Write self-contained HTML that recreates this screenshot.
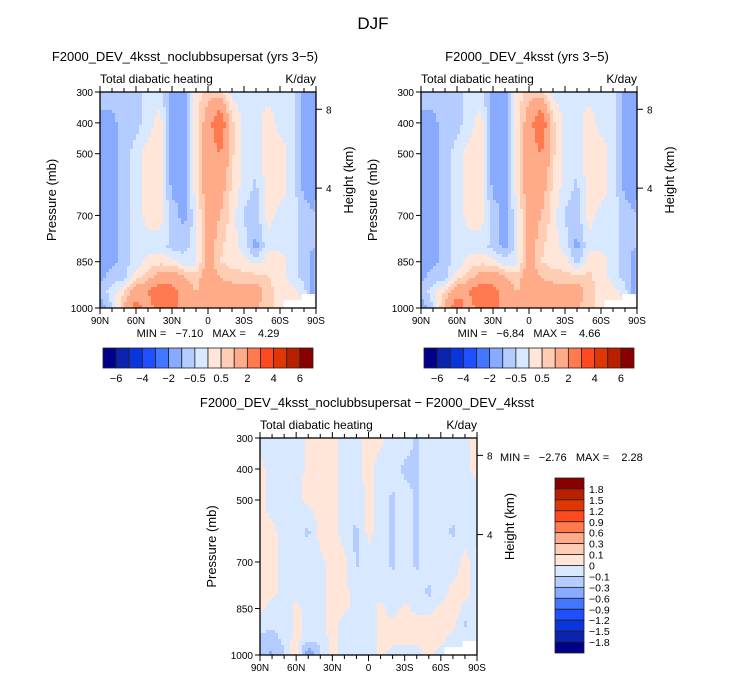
<!DOCTYPE html>
<html><head><meta charset="utf-8">
<style>
body{margin:0;background:#fff;}
svg{display:block;font-family:"Liberation Sans",sans-serif;}
text{fill:#000;white-space:pre;}
</style></head>
<body>
<svg id="fig" width="733" height="678" viewBox="0 0 733 678">
<text x="373" y="29" font-size="17" text-anchor="middle" fill="#333">DJF</text>
</svg>
<script>
// ---- data ----
const lats = ["90N","80N","70N","60N","50N","40N","30N","20N","10N","0","10S","20S","30S","40S","50S","60S","70S","80S","90S"];
const levels = [300,400,500,600,700,800,850,900,950,1000];
const latTickLabels = ["90N","60N","30N","0","30S","60S","90S"];
const pressureTicks = [300,400,500,700,850,1000];
const heightTicks = [8,4];
const mainThresholds = [-6,-5,-4,-3,-2,-1,-0.5,0,0.5,1,2,3,4,5,6];
const mainBarLabels = ["-6","-4","-2","-0.5","0.5","2","4","6"];
const diffThresholds = [-1.8,-1.5,-1.2,-0.9,-0.6,-0.3,-0.1,0,0.1,0.3,0.6,0.9,1.2,1.5,1.8];
const diffBarLabels = ["1.8","1.5","1.2","0.9","0.6","0.3","0.1","0","\u22120.1","\u22120.3","\u22120.6","\u22120.9","\u22121.2","\u22121.5","\u22121.8"];
const colors = ["#00008b","#0a24b0","#0a35dc","#1f4fff","#4477ff","#88aaff","#b4ccff","#d8e8ff","#ffe6d8","#ffccb4","#ffaa88","#ff7a4e","#ff4a20","#e03505","#b82000","#880000"];
const grid1 = [
[-0.7,-0.7,-0.7,-0.7,-0.3,-0.3,-1.2,-1.2,0.2,0.8,0.6,-0.2,-0.2,-0.2,-0.2,-0.2,-0.2,-1.2,-1.2],
[-1.2,-1.2,-0.7,-0.7,-0.3,0.3,-1.5,-1.2,0.2,1.5,3,0.6,-0.2,-0.2,0.3,-0.2,-0.2,-1.2,-1.2],
[-1.2,-1.2,-0.7,-0.3,0.3,0.3,-1.5,-1.2,0.3,1.5,2,0.6,-0.2,-0.2,0.3,0.3,-0.2,-1.2,-1.5],
[-1.2,-1.2,-0.7,-0.3,0.3,0.3,-1.2,-1.2,0.3,1.5,1.5,0.4,-0.2,-0.6,0.3,0.3,-0.2,-1.2,-1.5],
[-1.2,-1.2,-0.7,-0.3,0.2,0.2,-0.7,-1.2,-0.2,1.5,1,0.3,-0.6,-0.7,0.2,-0.2,-0.2,-0.7,-1],
[-1.2,-1.2,-0.7,-0.3,-0.2,-0.2,-0.7,-0.7,-0.2,1.5,0.6,0.2,-0.2,-1.2,-0.2,-0.2,-0.2,-0.7,-1],
[-1.2,-1.2,-0.7,-0.3,0.2,0.3,0.2,-0.3,-0.2,1.5,0.5,0.3,0.2,-0.2,0.3,0.3,-0.2,-0.7,-1.5],
[-1.2,-0.7,-0.7,0.3,0.7,1.5,1.5,1,0.7,1.5,1,0.7,0.7,0.7,0.5,0.3,-0.2,-0.7,-1.5],
[-0.7,-0.3,0.5,1.5,2,3,2.5,1.5,1,1.5,1.5,1.5,1.5,1.5,0.7,0.3,0.2,-0.2,-2],
[-1.5,-0.5,1,2.5,1.5,2.5,2.5,1.5,1,1,1,1,1.5,1,0.7,0.3,0.2,0.2,-0.5]];
const grid2 = [
[-0.7,-0.7,-0.7,-0.7,-0.3,-0.3,-1.2,-1.2,0.2,0.8,0.6,-0.2,-0.2,-0.2,-0.2,-0.2,-0.2,-1.2,-1.2],
[-1.2,-1.2,-0.7,-0.7,-0.3,0.3,-1.5,-1.2,0.2,1.5,3,0.6,-0.2,-0.2,0.3,-0.2,-0.2,-1.2,-1.2],
[-1.2,-1.2,-0.7,-0.3,0.3,0.3,-1.5,-1.2,0.3,1.5,2,0.6,-0.2,-0.2,0.3,0.3,-0.2,-1.2,-1.5],
[-1.2,-1.2,-0.7,-0.3,0.3,0.3,-1.2,-1.2,0.3,1.5,1.5,0.4,-0.2,-0.6,0.3,0.3,-0.2,-1.2,-1.5],
[-1.2,-1.2,-0.7,-0.3,0.2,0.2,-0.7,-1.2,-0.2,1.5,1,0.3,-0.6,-0.7,0.2,-0.2,-0.2,-0.7,-1],
[-1.2,-1.2,-0.7,-0.3,-0.2,-0.2,-0.7,-1.2,-0.2,1.5,0.6,0.2,-0.2,-1.2,-0.2,-0.2,-0.2,-0.7,-1],
[-1.2,-1.2,-0.7,-0.3,0.2,0.3,0.2,-0.3,-0.2,1.5,0.5,0.3,0.2,-0.7,0.3,0.3,-0.2,-0.7,-1.5],
[-1.2,-0.7,-0.7,0.3,0.7,1.5,1.5,1,0.7,1.5,1,0.7,0.7,0.7,0.6,0.3,-0.2,-0.7,-1.5],
[-0.7,-0.3,0.7,1.5,2,3,2.5,1.5,1,1.5,1.5,1.5,1.5,1.5,0.7,0.3,0.2,-0.2,-2],
[-1.5,-0.5,1.2,2.8,1.5,2.5,2.5,1.5,1,1,1,1,1.5,1,0.7,0.3,0.2,0.2,-0.5]];
const grid3 = [
[-0.05,-0.05,-0.05,-0.05,0.03,0.05,0.03,-0.05,-0.05,0.04,0.03,-0.05,-0.05,-0.12,-0.05,-0.05,-0.05,-0.03,0.03],
[0.03,-0.05,-0.05,-0.05,0.03,0.05,0.04,-0.05,-0.05,0.04,-0.05,-0.05,-0.12,-0.12,-0.05,-0.05,-0.05,-0.03,0.03],
[0.03,-0.05,-0.05,-0.03,0.03,0.05,0.05,-0.05,-0.05,0.03,-0.05,-0.12,-0.05,-0.12,-0.05,-0.05,-0.05,-0.03,-0.05],
[0.03,0.03,-0.05,-0.05,-0.12,0.04,0.05,-0.05,-0.12,0.03,-0.05,-0.12,-0.05,-0.12,-0.05,-0.05,-0.12,-0.03,-0.05],
[0.03,0.03,-0.05,-0.05,-0.05,-0.03,0.05,0.03,-0.12,-0.03,-0.05,-0.12,-0.05,-0.12,-0.05,-0.05,-0.05,0.03,-0.05],
[0.03,0.03,-0.05,-0.05,-0.05,-0.05,0.05,0.03,-0.05,-0.03,-0.05,-0.05,-0.05,-0.05,-0.12,-0.05,0.03,0.05,-0.05],
[0.03,-0.05,-0.05,0.03,-0.05,-0.05,0.05,0.03,-0.05,-0.05,0.03,-0.05,0.03,-0.05,-0.05,0.03,0.08,-0.05,-0.05],
[-0.05,-0.05,-0.05,0.03,-0.05,-0.05,0.05,-0.05,-0.05,-0.05,0.03,0.03,0.08,0.08,0.05,0.08,0.03,-0.12,-0.05],
[-0.12,-0.2,-0.05,0.03,-0.05,-0.05,0.03,-0.05,-0.05,-0.05,0.03,0.03,0.03,0.03,0.03,0.03,-0.05,-0.05,-0.05],
[-0.2,-0.35,-0.12,0.15,-0.5,-0.12,0.03,-0.05,-0.05,-0.05,0.03,-0.05,-0.05,-0.05,0.03,-0.05,-0.05,-0.05,-0.05]];

const NS="http://www.w3.org/2000/svg";
const svg=document.getElementById('fig');
function mk(tag,attrs,parent){const e=document.createElementNS(NS,tag);for(const k in attrs)e.setAttribute(k,attrs[k]);(parent||svg).appendChild(e);return e;}
function colorFor(v,th){let i=0;while(i<th.length&&v>=th[i])i++;return colors[i];}
function sample(grid,fl,fp){
  let r=0;while(r<levels.length-2&&fp>levels[r+1])r++;
  const t=Math.min(1,Math.max(0,(fp-levels[r])/(levels[r+1]-levels[r])));
  const c=Math.min(lats.length-2,Math.floor(fl));const s=Math.min(1,fl-c);
  const a=grid[r][c]*(1-s)+grid[r][c+1]*s, b=grid[r+1][c]*(1-s)+grid[r+1][c+1]*s;
  return a*(1-t)+b*t;
}
function panel(p){
  const g=mk('g',{});
  
  
  const xS=i=>p.x+i/(lats.length-1)*p.w;
  const yS=pr=>p.y+(pr-300)/700*p.h;
  const step=3;
  for(let yy=0;yy<p.h;yy+=step){
    const pr=300+(yy+step/2)/p.h*700;
    let runStart=0,runCol=null;
    let xx=0;
    while(true){
      let col=null;
      const done=xx>=p.w;
      if(!done){const fl=Math.min(lats.length-1,(xx+step/2)/p.w*(lats.length-1));col=colorFor(sample(p.grid,fl,pr),p.th);}
      if(col!==runCol||done){
        if(runCol!==null){
          const r=mk('rect',{x:p.x+runStart,y:p.y+yy,width:Math.min(xx,p.w)-runStart+0.5,height:Math.min(step+0.5,p.h-yy),fill:runCol},g);
          
          
        }
        runStart=xx;runCol=col;
      }
      if(done)break;
      xx+=step;
    }
  }
  mk('rect',{x:xS(15.3),y:yS(975),width:xS(17.9)-xS(15.3),height:yS(1000)-yS(975),fill:'#fff'},g);
  mk('rect',{x:xS(16.8),y:yS(955),width:xS(17.9)-xS(16.8),height:yS(1000)-yS(955),fill:'#fff'},g);
  mk('rect',{x:xS(17.9),y:yS(650),width:xS(18)-xS(17.9)+0.5,height:yS(1000)-yS(650),fill:'#fff'},g);
  const fr=mk('rect',{x:p.x,y:p.y,width:p.w,height:p.h,fill:'none',stroke:'#000','stroke-width':1.3},g);
  
  
  for(let i=0;i<lats.length;i++){
    const x=xS(i),major=i%3===0,L=major?6:4;
    mk('line',{x1:x,x2:x,y1:p.y+p.h,y2:p.y+p.h+L,stroke:'#000'},g);
    mk('line',{x1:x,x2:x,y1:p.y,y2:p.y-L,stroke:'#000'},g);
  }
  latTickLabels.forEach((lb,k)=>{
    const t=mk('text',{x:xS(k*3),y:p.y+p.h+16,'font-size':10,'text-anchor':'middle'},g);t.textContent=lb;
    
    
  });
  pressureTicks.forEach(pr=>{
    const y=yS(pr);
    mk('line',{x1:p.x,x2:p.x-5,y1:y,y2:y,stroke:'#000'},g);
    const t=mk('text',{x:p.x-7,y:y+4,'font-size':10,'text-anchor':'end'},g);t.textContent=pr;
    
    
  });
  heightTicks.forEach(km=>{
    const y=p.y+p.h-(km===8?0.92:0.555)*p.h;
    mk('line',{x1:p.x+p.w,x2:p.x+p.w+6,y1:y,y2:y,stroke:'#000'},g);
    const t=mk('text',{x:p.x+p.w+10,y:y+4,'font-size':10},g);t.textContent=km;
    
    
  });
  const yl=mk('text',{x:0,y:0,'font-size':13,'text-anchor':'middle',transform:`translate(${p.x-44},${p.y+p.h/2}) rotate(-90)`},g);yl.textContent='Pressure (mb)';
  
  
  const hl=mk('text',{x:0,y:0,'font-size':13,'text-anchor':'middle',transform:`translate(${p.x+p.w+37},${p.y+p.h/2-20}) rotate(-90)`},g);hl.textContent='Height (km)';
  
  
  const st=mk('text',{x:p.x,y:p.y-9,'font-size':12},g);st.textContent='Total diabatic heating';
  
  
  const un=mk('text',{x:p.x+p.w,y:p.y-9,'font-size':12,'text-anchor':'end'},g);un.textContent='K/day';
  
  
  const ti=mk('text',{x:p.tx,y:p.y-31,'font-size':13,'text-anchor':'middle'},g);ti.textContent=p.title;
  
  
  const mm=mk('text',{x:p.mx,y:p.my,'font-size':11,'text-anchor':p.ma},g);mm.textContent=p.minmax;
  
  
}
function hbar(x,y,w,h,name){
  const g=mk('g',{});
  
  
  const bw=w/colors.length;
  colors.forEach((c,i)=>{
    const r=mk('rect',{x:x+i*bw,y:y,width:bw,height:h,fill:c,stroke:'#222','stroke-width':0.8},g);
    
    
  });
  mainBarLabels.forEach((lb,k)=>{
    const t=mk('text',{x:x+(2*k+1)*bw,y:y+h+14,'font-size':11,'text-anchor':'middle'},g);t.textContent=lb.replace('-','\u2212');
    
    
  });
}
panel({name:'panel-noclubbsupersat',x:100,y:92,w:216,h:216,grid:grid1,th:mainThresholds,title:'F2000_DEV_4ksst_noclubbsupersat (yrs 3\u22125)',tx:185,minmax:'MIN =   \u22127.10   MAX =    4.29',mx:208,my:337,ma:'middle'});
panel({name:'panel-4ksst',x:421,y:92,w:216,h:216,grid:grid2,th:mainThresholds,title:'F2000_DEV_4ksst (yrs 3\u22125)',tx:527,minmax:'MIN =   \u22126.84   MAX =    4.66',mx:529,my:337,ma:'middle'});
panel({name:'panel-difference',x:260,y:438,w:217,h:217,grid:grid3,th:diffThresholds,title:'F2000_DEV_4ksst_noclubbsupersat \u2212 F2000_DEV_4ksst',tx:367,minmax:'MIN =   \u22122.76   MAX =    2.28',mx:500,my:461,ma:'start'});
hbar(103,348,210,20,'colorbar-top-left');
hbar(424,348,210,20,'colorbar-top-right');
(function(){
  const g=mk('g',{});
  
  
  const x=555,y=478,w=29,h=175,bh=h/colors.length;
  colors.slice().reverse().forEach((c,i)=>{
    const r=mk('rect',{x:x,y:y+i*bh,width:w,height:bh,fill:c,stroke:'#222','stroke-width':0.8},g);
    
    
  });
  diffBarLabels.forEach((lb,k)=>{
    const t=mk('text',{x:x+w+5,y:y+(k+1)*bh+4,'font-size':10.5},g);t.textContent=lb;
    
    
  });
})();
</script>
</body></html>
